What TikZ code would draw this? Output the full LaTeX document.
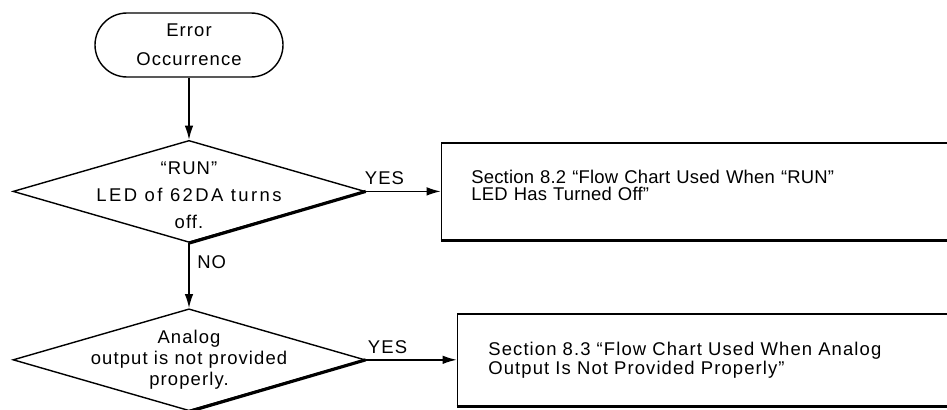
\documentclass[tikz,border=0pt]{standalone}
\usepackage{fontspec}
\setmainfont{Liberation Sans}[LetterSpace=6.0]
\usetikzlibrary{shapes.geometric}
\usetikzlibrary{positioning}
\usetikzlibrary{arrows.meta}

\begin{document}
\begin{tikzpicture}[line width=0.8pt, >={Latex[length=2.8mm,width=1.7mm]}, font=\fontsize{10.5}{12}\selectfont,
        term/.style = {draw, rounded corners=6.4mm, minimum width=3.76cm, minimum height=1.28cm, align=center},
        dec/.style = {draw, diamond, inner sep=0pt, minimum width=7.04cm, minimum height=2.04cm},
        sect/.style = {draw, minimum height=1.94cm, text width=10cm, inner xsep=6mm, align=left},
        shade/.style = {line width=1.8pt}]
    \useasboundingbox (0,0) rectangle (18.94,-8.2);
    \clip (0,0) rectangle (18.94,-8.2);
    \node[term, font=\fontsize{10.5}{16.4}\selectfont] (start) at (3.78,-0.9) {Error\\Occurrence};
    \node[dec, below=1.24cm of start,
        label={[align=center, yshift=-2pt, font=\fontsize{10.5}{15.3}\selectfont]center:``RUN''\\{\addfontfeatures{LetterSpace=13.0}LED of 62DA turns}\\off.}] (run) {};
    \node[dec, below=1.3cm of run,
        label={[align=center, font=\fontsize{10.5}{12}\selectfont]center:Analog\\output is not provided\\properly.}] (ana) {};
    \node[sect, right=1.5cm of run, font=\fontsize{10.5}{9.6}\selectfont\addfontfeatures{LetterSpace=1.0}] (sec2)
        {Section 8.2 ``Flow Chart Used When ``RUN''\\LED Has Turned Off''\\[-3pt]\mbox{}};
    \node[sect, right=1.82cm of ana, minimum height=1.84cm, inner xsep=6.2mm, font=\fontsize{10.5}{9}\selectfont] (sec3)
        {Section 8.3 ``Flow Chart Used When Analog\\Output Is Not Provided Properly''};
    % heavy lower edges
    \draw[shade] (run.south) -- (run.east);
    \draw[shade] (ana.south) -- (ana.east);
    \draw[shade] (sec2.south west) -- (sec2.south east);
    \draw[shade] (sec3.south west) -- (sec3.south east);
    % connectors
    \draw[->] (start) -- (run);
    \draw[->] (run) -- node[right, pos=0.3, xshift=1pt] {NO} (ana);
    \draw[->] (run.east) -- node[above, pos=0.25] {YES} (run.east -| sec2.west);
    \draw[->] (ana.east) -- node[above, pos=0.24] {YES} (ana.east -| sec3.west);
\end{tikzpicture}
\end{document}
